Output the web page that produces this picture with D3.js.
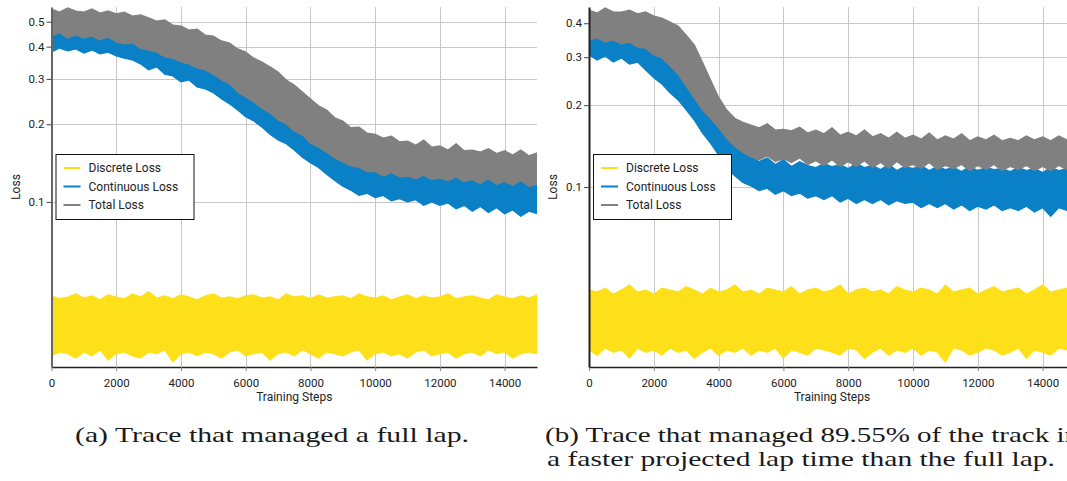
<!DOCTYPE html>
<html><head><meta charset="utf-8">
<script src="https://cdn.jsdelivr.net/npm/d3@7"></script>
<style>body{margin:0;background:#fff}svg{display:block}</style>
</head><body>
<svg id="chart" width="1067" height="481"></svg>
<script>
// ---------- data (sampled every 250 training steps, envelope of noisy traces) ----------
const steps = d3.range(0, 15001, 250);
const xTicks = [0, 2000, 4000, 6000, 8000, 10000, 12000, 14000];
const yTicksA = [0.1, 0.2, 0.3, 0.4, 0.5];
const yTicksB = [0.1, 0.2, 0.3, 0.4];
const seriesNames = ["Discrete Loss", "Continuous Loss", "Total Loss"];
const seriesColors = ["#fde01a", "#0a80c6", "#808080"];

// Panel (a)
const aDiscreteHi = [0.0432,0.0421,0.0428,0.0440,0.0424,0.0432,0.0417,0.0436,0.0428,0.0421,0.0440,0.0428,0.0448,0.0424,0.0432,0.0421,0.0436,0.0428,0.0417,0.0432,0.0440,0.0424,0.0428,0.0421,0.0432,0.0436,0.0424,0.0428,0.0417,0.0440,0.0428,0.0432,0.0421,0.0436,0.0424,0.0428,0.0432,0.0421,0.0440,0.0428,0.0424,0.0432,0.0417,0.0428,0.0436,0.0421,0.0432,0.0424,0.0428,0.0440,0.0421,0.0428,0.0432,0.0424,0.0417,0.0436,0.0428,0.0421,0.0432,0.0424,0.0436];
const aDiscreteLo = [0.0253,0.0262,0.0258,0.0248,0.0262,0.0253,0.0267,0.0244,0.0258,0.0262,0.0253,0.0248,0.0262,0.0258,0.0267,0.0240,0.0258,0.0262,0.0253,0.0262,0.0258,0.0248,0.0262,0.0267,0.0253,0.0258,0.0262,0.0244,0.0258,0.0262,0.0253,0.0267,0.0258,0.0248,0.0262,0.0258,0.0253,0.0262,0.0267,0.0244,0.0258,0.0262,0.0253,0.0258,0.0248,0.0262,0.0267,0.0253,0.0258,0.0262,0.0248,0.0258,0.0262,0.0253,0.0267,0.0258,0.0262,0.0248,0.0258,0.0262,0.0258];
const aContHi = [0.452,0.460,0.444,0.455,0.440,0.452,0.436,0.444,0.425,0.421,0.420,0.405,0.395,0.392,0.375,0.370,0.357,0.352,0.340,0.333,0.320,0.305,0.295,0.275,0.262,0.250,0.238,0.228,0.214,0.207,0.194,0.187,0.174,0.168,0.160,0.153,0.147,0.142,0.140,0.135,0.134,0.130,0.133,0.129,0.130,0.127,0.130,0.126,0.128,0.125,0.128,0.124,0.126,0.122,0.126,0.121,0.124,0.120,0.124,0.119,0.121];
const aContLo = [0.381,0.395,0.385,0.392,0.378,0.388,0.375,0.381,0.368,0.361,0.355,0.343,0.325,0.334,0.313,0.308,0.292,0.297,0.279,0.274,0.265,0.251,0.240,0.227,0.214,0.206,0.195,0.183,0.174,0.168,0.159,0.149,0.142,0.136,0.128,0.121,0.115,0.111,0.106,0.108,0.104,0.106,0.101,0.103,0.100,0.102,0.097,0.100,0.097,0.099,0.094,0.097,0.092,0.096,0.091,0.095,0.090,0.093,0.088,0.092,0.090];
const aTotalHi = [0.560,0.545,0.565,0.550,0.545,0.560,0.540,0.550,0.536,0.545,0.526,0.531,0.517,0.503,0.508,0.485,0.481,0.464,0.468,0.444,0.440,0.421,0.413,0.392,0.381,0.361,0.349,0.334,0.319,0.297,0.284,0.267,0.251,0.236,0.227,0.212,0.206,0.194,0.195,0.185,0.183,0.177,0.180,0.171,0.172,0.166,0.174,0.163,0.165,0.159,0.168,0.158,0.159,0.156,0.161,0.154,0.158,0.152,0.159,0.151,0.155];
const aTotalLo = [0.440,0.452,0.432,0.444,0.432,0.440,0.425,0.436,0.417,0.410,0.413,0.395,0.388,0.381,0.365,0.361,0.349,0.343,0.331,0.325,0.313,0.297,0.287,0.267,0.255,0.244,0.231,0.221,0.208,0.201,0.188,0.182,0.169,0.163,0.156,0.148,0.143,0.138,0.136,0.131,0.131,0.126,0.130,0.125,0.126,0.123,0.127,0.122,0.124,0.121,0.125,0.120,0.122,0.118,0.123,0.117,0.120,0.116,0.121,0.115,0.117];

// Panel (b)
const bDiscreteHi = [0.0418,0.0411,0.0425,0.0404,0.0418,0.0436,0.0411,0.0418,0.0404,0.0425,0.0418,0.0411,0.0430,0.0418,0.0404,0.0425,0.0411,0.0418,0.0436,0.0411,0.0418,0.0404,0.0425,0.0418,0.0411,0.0430,0.0404,0.0418,0.0425,0.0411,0.0418,0.0436,0.0404,0.0418,0.0425,0.0411,0.0418,0.0404,0.0430,0.0418,0.0411,0.0425,0.0418,0.0404,0.0436,0.0411,0.0418,0.0425,0.0404,0.0418,0.0430,0.0411,0.0418,0.0425,0.0404,0.0418,0.0436,0.0411,0.0418,0.0425,0.0411];
const bDiscreteLo = [0.0252,0.0241,0.0256,0.0247,0.0252,0.0235,0.0256,0.0247,0.0252,0.0241,0.0256,0.0247,0.0252,0.0235,0.0247,0.0256,0.0241,0.0252,0.0247,0.0256,0.0241,0.0252,0.0247,0.0256,0.0235,0.0252,0.0247,0.0241,0.0256,0.0252,0.0247,0.0241,0.0256,0.0252,0.0235,0.0247,0.0256,0.0241,0.0252,0.0247,0.0256,0.0241,0.0252,0.0247,0.0227,0.0256,0.0252,0.0241,0.0247,0.0256,0.0252,0.0241,0.0247,0.0256,0.0235,0.0252,0.0247,0.0241,0.0256,0.0252,0.0247];
const bContHi = [0.360,0.365,0.352,0.358,0.346,0.352,0.338,0.335,0.316,0.308,0.288,0.270,0.244,0.220,0.199,0.186,0.171,0.157,0.146,0.138,0.130,0.124,0.128,0.121,0.126,0.119,0.124,0.120,0.118,0.122,0.119,0.121,0.117,0.122,0.118,0.120,0.116,0.121,0.115,0.119,0.117,0.120,0.115,0.119,0.116,0.118,0.114,0.119,0.115,0.118,0.116,0.117,0.114,0.118,0.115,0.117,0.113,0.118,0.115,0.117,0.116];
const bContLo = [0.306,0.293,0.303,0.288,0.298,0.283,0.288,0.269,0.252,0.239,0.222,0.209,0.192,0.176,0.158,0.145,0.131,0.117,0.110,0.104,0.101,0.097,0.099,0.094,0.097,0.093,0.095,0.091,0.093,0.090,0.093,0.088,0.091,0.087,0.090,0.087,0.090,0.086,0.089,0.087,0.088,0.084,0.087,0.084,0.087,0.083,0.086,0.082,0.085,0.083,0.086,0.082,0.084,0.082,0.085,0.081,0.084,0.078,0.084,0.082,0.083];
const bTotalHi = [0.447,0.436,0.455,0.440,0.440,0.447,0.433,0.440,0.425,0.418,0.404,0.391,0.362,0.333,0.288,0.248,0.214,0.192,0.179,0.173,0.169,0.165,0.171,0.162,0.163,0.161,0.166,0.158,0.162,0.157,0.165,0.155,0.159,0.154,0.162,0.153,0.157,0.151,0.159,0.151,0.155,0.150,0.158,0.149,0.154,0.150,0.157,0.148,0.153,0.149,0.155,0.148,0.151,0.148,0.154,0.149,0.153,0.148,0.154,0.149,0.151];
const bTotalLo = [0.347,0.353,0.341,0.347,0.335,0.341,0.327,0.324,0.306,0.298,0.279,0.260,0.235,0.212,0.192,0.179,0.165,0.151,0.141,0.134,0.129,0.126,0.130,0.124,0.127,0.123,0.128,0.121,0.125,0.120,0.126,0.119,0.124,0.119,0.125,0.118,0.123,0.117,0.124,0.118,0.121,0.117,0.123,0.116,0.120,0.117,0.121,0.115,0.120,0.116,0.121,0.115,0.119,0.116,0.120,0.115,0.119,0.115,0.120,0.116,0.118];

const captionA = "(a) Trace that managed a full lap.";
const captionB1 = "(b) Trace that managed 89.55% of the track in";
const captionB2 = "a faster projected lap time than the full lap.";

// ---------- drawing ----------
const svg = d3.select("#chart");
const sans = "Roboto, 'Noto Sans', sans-serif";

function panel(cfg) {
  const x = d3.scaleLinear().domain([0, 15000]).range([cfg.x0, cfg.x1]);
  const y = d3.scaleLog().domain(cfg.yDomain).range([367, 7]);
  const g = svg.append("g");
  const id = "clip" + cfg.key;
  svg.append("defs").append("clipPath").attr("id", id)
    .append("rect").attr("x", cfg.x0).attr("y", 7).attr("width", cfg.x1 - cfg.x0).attr("height", 360);

  // grid
  const grid = g.append("g").attr("stroke", "#c8c8c8").attr("stroke-width", 1);
  grid.selectAll(".gx").data(xTicks.slice(1)).join("line")
    .attr("x1", d => Math.round(x(d)) + 0.5).attr("x2", d => Math.round(x(d)) + 0.5)
    .attr("y1", 7).attr("y2", 367);
  grid.selectAll(".gy").data(cfg.yTicks).join("line")
    .attr("x1", cfg.x0).attr("x2", cfg.x1)
    .attr("y1", d => Math.round(y(d)) + 0.5).attr("y2", d => Math.round(y(d)) + 0.5);

  // series bands
  const data = g.append("g").attr("clip-path", `url(#${id})`);
  cfg.series.forEach((s, i) => {
    const pts = steps.map((st, k) => ({st, lo: s.lo[k], hi: s.hi[k]}));
    const area = d3.area().x(d => x(d.st)).y0(d => y(d.lo)).y1(d => y(d.hi));
    data.append("path").attr("d", area(pts))
      .attr("fill", seriesColors[i]).attr("stroke", seriesColors[i])
      .attr("stroke-width", 1.2).attr("stroke-linejoin", "miter");
  });

  // axes
  const xAxis = d3.axisBottom(x).tickValues(xTicks).tickSize(4).tickSizeOuter(0).tickFormat(d3.format("d"));
  const gx = g.append("g").attr("transform", "translate(0,367)").call(xAxis);
  gx.select(".domain").attr("stroke", "#222").attr("stroke-width", 1.5);
  gx.selectAll(".tick line").attr("stroke", "#888");
  gx.selectAll("text").attr("font-family", sans).attr("font-size", 11.5).attr("fill", "#222").attr("dy", "1.15em");

  const yAxis = d3.axisLeft(y).tickValues(cfg.yTicks).tickSize(5).tickSizeOuter(0).tickFormat(d3.format(".1f"));
  const gy = g.append("g").attr("transform", `translate(${cfg.x0},0)`).call(yAxis);
  gy.select(".domain").attr("stroke", cfg.axisColor).attr("stroke-width", 2);
  gy.selectAll(".tick line").attr("stroke", "#444");
  gy.selectAll("text").attr("font-family", sans).attr("font-size", 11.5).attr("fill", "#222").attr("x", -7);

  // labels
  g.append("text").attr("x", (cfg.x0 + cfg.x1) / 2).attr("y", 401).attr("text-anchor", "middle")
    .attr("font-family", sans).attr("font-size", 12).attr("fill", "#222").text("Training Steps");
  g.append("text").attr("transform", `translate(${cfg.x0 - 32},187) rotate(-90)`).attr("text-anchor", "middle")
    .attr("font-family", sans).attr("font-size", 12).attr("fill", "#222").text("Loss");

  // legend
  const lg = g.append("g").attr("transform", `translate(${cfg.x0 + 4},154)`);
  lg.append("rect").attr("x", 0.5).attr("y", 0.5).attr("width", 138).attr("height", 65)
    .attr("fill", "#fff").attr("stroke", "#111").attr("stroke-width", 1);
  seriesNames.forEach((n, i) => {
    const yy = 14 + i * 18.5;
    lg.append("line").attr("x1", 8).attr("x2", 25).attr("y1", yy).attr("y2", yy)
      .attr("stroke", seriesColors[i]).attr("stroke-width", 2);
    lg.append("text").attr("x", 33).attr("y", yy + 4).attr("font-family", sans)
      .attr("font-size", 12).attr("fill", "#222").text(n);
  });
}

panel({key: "a", x0: 51.5, x1: 537, yDomain: [0.0229, 0.570], yTicks: yTicksA, axisColor: "#666",
  series: [{lo: aDiscreteLo, hi: aDiscreteHi}, {lo: aContLo, hi: aContHi}, {lo: aTotalLo, hi: aTotalHi}]});
panel({key: "b", x0: 589, x1: 1075, yDomain: [0.0218, 0.459], yTicks: yTicksB, axisColor: "#222",
  series: [{lo: bDiscreteLo, hi: bDiscreteHi}, {lo: bContLo, hi: bContHi}, {lo: bTotalLo, hi: bTotalHi}]});

// captions
const serif = "'Liberation Serif', 'DejaVu Serif', serif";
function caption(txt, x, y, w) {
  svg.append("text").attr("x", x).attr("y", y).attr("font-family", serif).attr("font-size", 21)
    .attr("fill", "#1a1a1a").attr("textLength", w).attr("lengthAdjust", "spacingAndGlyphs").text(txt);
}
caption(captionA, 75, 442, 394);
caption(captionB1, 545, 442, 534);
caption(captionB2, 547, 466, 508);
</script>
</body></html>
